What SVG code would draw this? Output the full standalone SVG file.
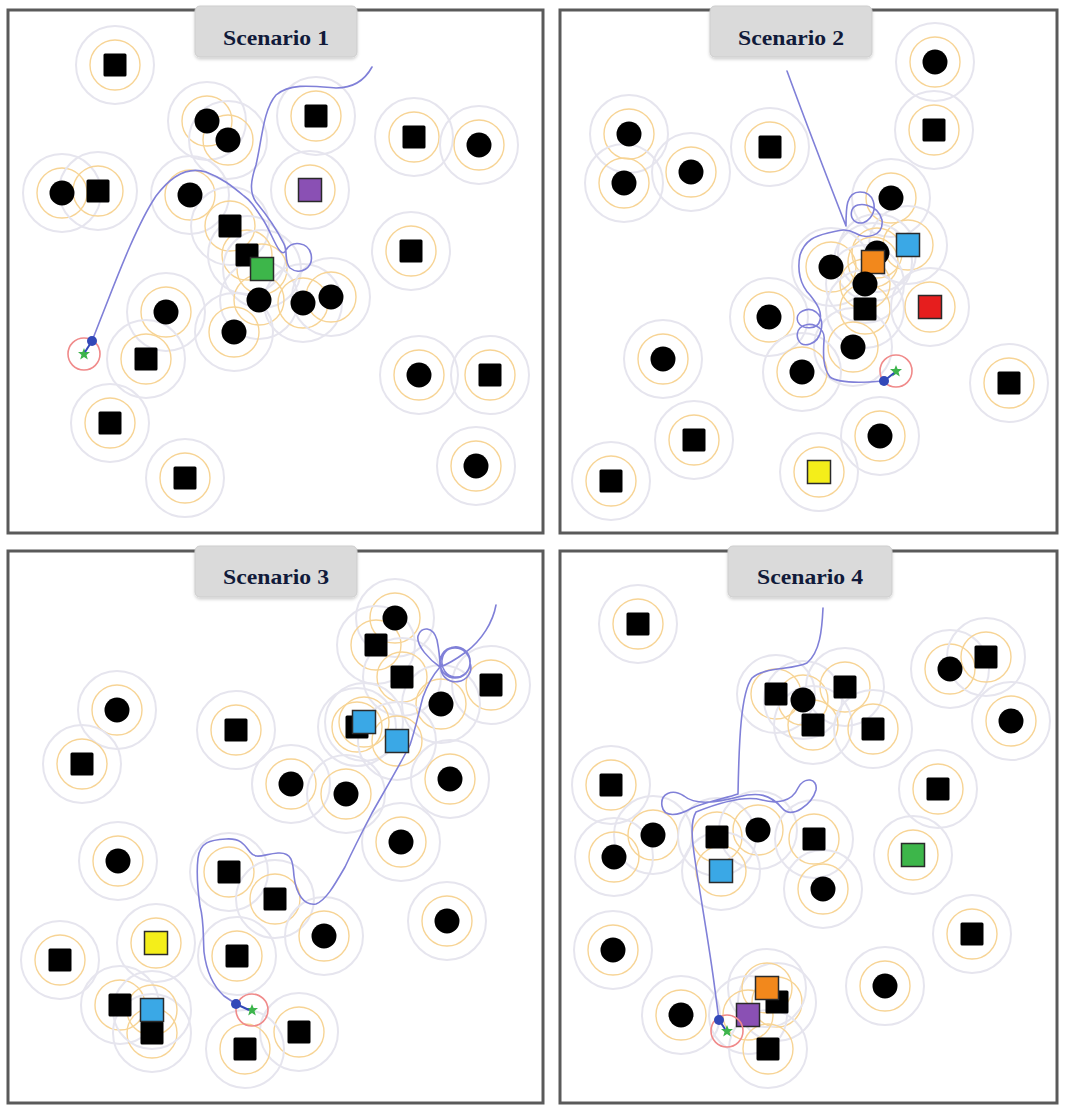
<svg xmlns="http://www.w3.org/2000/svg" xmlns:xlink="http://www.w3.org/1999/xlink" width="1065" height="1115" viewBox="0 0 1065 1115">
<style>
.panel{fill:#fff;stroke:#5a5a5a;stroke-width:3}
.tab{fill:#dadada;stroke:#cdcdcd;stroke-width:1}
.ttl{font-family:"Liberation Serif",serif;font-weight:bold;font-size:22px;fill:#111a3a;text-anchor:middle}
.ro{fill:none;stroke:#e6e5ee;stroke-width:2}
.ri{fill:none;stroke:#f7d495;stroke-width:1.4}
.bc{fill:#000}
.bs{fill:#000}
.cs{stroke:#2a2a2a;stroke-width:1.5}
.traj{fill:none;stroke:#8080d8;stroke-width:1.6;stroke-linecap:round;stroke-linejoin:round}
.goal{fill:none;stroke:#f08a8a;stroke-width:1.6}
.star{fill:#3cb44b}
.bot{fill:#3248b8}
</style>
<defs>
<g id="rg"><circle class="ro" r="39"/><circle class="ri" r="25"/></g>
<circle id="circ" class="bc" r="12.5"/>
<rect id="sq" class="bs" x="-11.5" y="-11.5" width="23" height="23" rx="1.5"/>
<rect id="csq" class="cs" x="-11.5" y="-11.5" width="23" height="23"/>
<g id="start"><circle class="goal" r="16"/><polygon class="star" points="0,-6 1.6,-2 6,-2 2.5,1 3.8,5.5 0,3 -3.8,5.5 -2.5,1 -6,-2 -1.6,-2"/></g>
<filter id="sh" x="-10%" y="-20%" width="120%" height="150%"><feDropShadow dx="0" dy="2" stdDeviation="1.5" flood-color="#000" flood-opacity="0.18"/></filter>
</defs>

<g id="panels">
<rect id="panel1" class="panel" x="8" y="10" width="535" height="523"/>
<rect id="panel2" class="panel" x="560" y="10" width="497" height="523"/>
<rect id="panel3" class="panel" x="8" y="551" width="535" height="552"/>
<rect id="panel4" class="panel" x="560" y="551" width="497" height="552"/>
</g>

<!-- Sensing rings -->
<g id="rings">
<use href="#rg" x="115" y="65"/><use href="#rg" x="207" y="121"/><use href="#rg" x="228" y="140"/><use href="#rg" x="316" y="116"/><use href="#rg" x="414" y="137"/><use href="#rg" x="479" y="145"/><use href="#rg" x="62" y="193"/><use href="#rg" x="98" y="191"/><use href="#rg" x="190" y="195"/><use href="#rg" x="310" y="190"/><use href="#rg" x="230" y="226"/><use href="#rg" x="247" y="255"/><use href="#rg" x="262" y="269"/><use href="#rg" x="411" y="251"/><use href="#rg" x="259" y="300"/><use href="#rg" x="303" y="303"/><use href="#rg" x="331" y="297"/><use href="#rg" x="166" y="312"/><use href="#rg" x="234" y="332"/><use href="#rg" x="146" y="359"/><use href="#rg" x="419" y="375"/><use href="#rg" x="490" y="375"/><use href="#rg" x="110" y="423"/><use href="#rg" x="185" y="478"/><use href="#rg" x="476" y="466"/>
<use href="#rg" x="935" y="62"/><use href="#rg" x="629" y="134"/><use href="#rg" x="770" y="147"/><use href="#rg" x="934" y="130"/><use href="#rg" x="624" y="183"/><use href="#rg" x="691" y="172"/><use href="#rg" x="891" y="198"/><use href="#rg" x="908" y="245"/><use href="#rg" x="877" y="253"/><use href="#rg" x="873" y="262"/><use href="#rg" x="831" y="267"/><use href="#rg" x="865" y="284"/><use href="#rg" x="865" y="309"/><use href="#rg" x="930" y="307"/><use href="#rg" x="769" y="317"/><use href="#rg" x="853" y="347"/><use href="#rg" x="663" y="359"/><use href="#rg" x="802" y="372"/><use href="#rg" x="1009" y="383"/><use href="#rg" x="694" y="440"/><use href="#rg" x="880" y="436"/><use href="#rg" x="819" y="472"/><use href="#rg" x="611" y="481"/>
<use href="#rg" x="395" y="618"/><use href="#rg" x="376" y="645"/><use href="#rg" x="402" y="677"/><use href="#rg" x="491" y="685"/><use href="#rg" x="441" y="704"/><use href="#rg" x="117" y="710"/><use href="#rg" x="236" y="730"/><use href="#rg" x="357" y="727"/><use href="#rg" x="364" y="722"/><use href="#rg" x="397" y="741"/><use href="#rg" x="82" y="764"/><use href="#rg" x="291" y="784"/><use href="#rg" x="346" y="794"/><use href="#rg" x="450" y="779"/><use href="#rg" x="401" y="842"/><use href="#rg" x="118" y="861"/><use href="#rg" x="229" y="872"/><use href="#rg" x="275" y="899"/><use href="#rg" x="447" y="921"/><use href="#rg" x="324" y="936"/><use href="#rg" x="156" y="943"/><use href="#rg" x="237" y="956"/><use href="#rg" x="60" y="960"/><use href="#rg" x="120" y="1005"/><use href="#rg" x="152" y="1033"/><use href="#rg" x="152" y="1010"/><use href="#rg" x="299" y="1032"/><use href="#rg" x="245" y="1049"/>
<use href="#rg" x="638" y="624"/><use href="#rg" x="950" y="669"/><use href="#rg" x="986" y="657"/><use href="#rg" x="1011" y="721"/><use href="#rg" x="776" y="694"/><use href="#rg" x="803" y="700"/><use href="#rg" x="845" y="687"/><use href="#rg" x="813" y="725"/><use href="#rg" x="873" y="729"/><use href="#rg" x="938" y="789"/><use href="#rg" x="611" y="785"/><use href="#rg" x="653" y="835"/><use href="#rg" x="614" y="857"/><use href="#rg" x="717" y="837"/><use href="#rg" x="758" y="830"/><use href="#rg" x="814" y="839"/><use href="#rg" x="721" y="871"/><use href="#rg" x="913" y="855"/><use href="#rg" x="823" y="889"/><use href="#rg" x="613" y="950"/><use href="#rg" x="972" y="934"/><use href="#rg" x="885" y="986"/><use href="#rg" x="681" y="1015"/><use href="#rg" x="777" y="1002"/><use href="#rg" x="767" y="988"/><use href="#rg" x="748" y="1015"/><use href="#rg" x="768" y="1049"/>
</g>

<!-- Trajectories -->
<g id="connectors">
<path id="traj1" class="traj" d="M372,67 C366,78 356,88 336,88 C312,86 290,83 276,95 C263,110 262,140 256,165 C251,180 249,192 256,202 C266,214 276,228 284,244 C288,252 284,262 290,268 C300,276 314,268 311,254 C308,242 292,240 286,250 C280,262 272,232 262,218 C254,206 250,200 244,196 C232,186 222,178 206,172 C187,166 171,176 156,196 C136,226 116,280 101,318 L92,341"/>
<path id="traj2" class="traj" d="M787,71 C805,120 830,185 846,226 C846,208 846,192 860,192 C874,192 878,208 870,218 C862,228 848,222 852,210 C856,200 878,204 882,220 C884,236 866,240 855,233 C846,228 840,230 828,233 C815,236 805,240 800,255 C797,270 800,285 810,295 C818,305 822,312 820,320 C818,330 802,330 798,322 C794,312 808,306 816,312 C826,320 822,340 810,344 C798,348 794,334 800,328 C808,320 826,326 824,340 C823,355 823,368 830,377 C838,383 860,383 883,381"/>
<path id="traj3" class="traj" d="M496,605 C493,622 482,640 466,652 C455,660 446,665 440,667 C430,660 416,646 418,636 C421,626 433,626 437,640 C439,650 440,660 440,667 M440,663 a15,15 0 1,0 30,0 a15,15 0 1,0 -30,0 M442,660 a14,15 0 1,0 28,4 a14,15 0 1,0 -28,-4 M441,666 a15,14 0 1,0 29,-3 a15,14 0 1,0 -29,3 M440,667 C432,676 427,686 423,697 C418,715 416,727 410,745 C398,768 385,790 372,813 C360,836 352,852 345,867 C334,886 326,900 316,904 C304,906 296,894 294,876 C293,862 292,852 278,853 C264,854 256,860 250,852 C244,844 240,838 226,839 C210,840 200,842 198,858 C196,875 198,892 200,906 C204,920 203,935 204,952 C206,968 212,985 224,996 L236,1004"/>
<path id="traj4" class="traj" d="M823,608 C822,630 820,652 807,663 C792,670 764,667 752,678 C741,692 739,740 738,794 C726,798 706,802 692,808 C678,816 664,818 662,806 C660,794 672,788 684,796 C696,806 718,802 738,797 C758,792 770,794 782,808 C792,820 812,804 816,790 C818,778 804,776 798,788 C792,802 776,804 762,800 C744,795 716,804 696,812 C690,822 692,840 695,860 C701,900 710,950 715,990 L719,1020"/>
</g>

<!-- Scenario 1 objects -->
<g id="scenario1">
<g id="s1-o1"><use href="#sq" x="115" y="65"/></g>
<g id="s1-o2"><use href="#circ" x="207" y="121"/></g>
<g id="s1-o3"><use href="#circ" x="228" y="140"/></g>
<g id="s1-o4"><use href="#sq" x="316" y="116"/></g>
<g id="s1-o5"><use href="#sq" x="414" y="137"/></g>
<g id="s1-o6"><use href="#circ" x="479" y="145"/></g>
<g id="s1-o7"><use href="#circ" x="62" y="193"/></g>
<g id="s1-o8"><use href="#sq" x="98" y="191"/></g>
<g id="s1-o9"><use href="#circ" x="190" y="195"/></g>
<g id="s1-o10"><use href="#csq" x="310" y="190" fill="#8a50b4"/></g>
<g id="s1-o11"><use href="#sq" x="230" y="226"/></g>
<g id="s1-o12"><use href="#sq" x="247" y="255"/></g>
<g id="s1-o13"><use href="#csq" x="262" y="269" fill="#3db64a"/></g>
<g id="s1-o14"><use href="#sq" x="411" y="251"/></g>
<g id="s1-o15"><use href="#circ" x="259" y="300"/></g>
<g id="s1-o16"><use href="#circ" x="303" y="303"/></g>
<g id="s1-o17"><use href="#circ" x="331" y="297"/></g>
<g id="s1-o18"><use href="#circ" x="166" y="312"/></g>
<g id="s1-o19"><use href="#circ" x="234" y="332"/></g>
<g id="s1-o20"><use href="#sq" x="146" y="359"/></g>
<g id="s1-o21"><use href="#circ" x="419" y="375"/></g>
<g id="s1-o22"><use href="#sq" x="490" y="375"/></g>
<g id="s1-o23"><use href="#sq" x="110" y="423"/></g>
<g id="s1-o24"><use href="#sq" x="185" y="478"/></g>
<g id="s1-o25"><use href="#circ" x="476" y="466"/></g>
</g>

<!-- Scenario 2 objects -->
<g id="scenario2">
<g id="s2-o1"><use href="#circ" x="935" y="62"/></g>
<g id="s2-o2"><use href="#circ" x="629" y="134"/></g>
<g id="s2-o3"><use href="#sq" x="770" y="147"/></g>
<g id="s2-o4"><use href="#sq" x="934" y="130"/></g>
<g id="s2-o5"><use href="#circ" x="624" y="183"/></g>
<g id="s2-o6"><use href="#circ" x="691" y="172"/></g>
<g id="s2-o7"><use href="#circ" x="891" y="198"/></g>
<g id="s2-o8"><use href="#csq" x="908" y="245" fill="#3aa8e6"/></g>
<g id="s2-o9"><use href="#circ" x="877" y="253"/></g>
<g id="s2-o10"><use href="#csq" x="873" y="262" fill="#f2881c"/></g>
<g id="s2-o11"><use href="#circ" x="831" y="267"/></g>
<g id="s2-o12"><use href="#circ" x="865" y="284"/></g>
<g id="s2-o13"><use href="#sq" x="865" y="309"/></g>
<g id="s2-o14"><use href="#csq" x="930" y="307" fill="#e61e1e"/></g>
<g id="s2-o15"><use href="#circ" x="769" y="317"/></g>
<g id="s2-o16"><use href="#circ" x="853" y="347"/></g>
<g id="s2-o17"><use href="#circ" x="663" y="359"/></g>
<g id="s2-o18"><use href="#circ" x="802" y="372"/></g>
<g id="s2-o19"><use href="#sq" x="1009" y="383"/></g>
<g id="s2-o20"><use href="#sq" x="694" y="440"/></g>
<g id="s2-o21"><use href="#circ" x="880" y="436"/></g>
<g id="s2-o22"><use href="#csq" x="819" y="472" fill="#f4ee1a"/></g>
<g id="s2-o23"><use href="#sq" x="611" y="481"/></g>
</g>

<!-- Scenario 3 objects -->
<g id="scenario3">
<g id="s3-o1"><use href="#circ" x="395" y="618"/></g>
<g id="s3-o2"><use href="#sq" x="376" y="645"/></g>
<g id="s3-o3"><use href="#sq" x="402" y="677"/></g>
<g id="s3-o4"><use href="#sq" x="491" y="685"/></g>
<g id="s3-o5"><use href="#circ" x="441" y="704"/></g>
<g id="s3-o6"><use href="#circ" x="117" y="710"/></g>
<g id="s3-o7"><use href="#sq" x="236" y="730"/></g>
<g id="s3-o8"><use href="#sq" x="357" y="727"/></g>
<g id="s3-o9"><use href="#csq" x="364" y="722" fill="#3aa8e6"/></g>
<g id="s3-o10"><use href="#csq" x="397" y="741" fill="#3aa8e6"/></g>
<g id="s3-o11"><use href="#sq" x="82" y="764"/></g>
<g id="s3-o12"><use href="#circ" x="291" y="784"/></g>
<g id="s3-o13"><use href="#circ" x="346" y="794"/></g>
<g id="s3-o14"><use href="#circ" x="450" y="779"/></g>
<g id="s3-o15"><use href="#circ" x="401" y="842"/></g>
<g id="s3-o16"><use href="#circ" x="118" y="861"/></g>
<g id="s3-o17"><use href="#sq" x="229" y="872"/></g>
<g id="s3-o18"><use href="#sq" x="275" y="899"/></g>
<g id="s3-o19"><use href="#circ" x="447" y="921"/></g>
<g id="s3-o20"><use href="#circ" x="324" y="936"/></g>
<g id="s3-o21"><use href="#csq" x="156" y="943" fill="#f4ee1a"/></g>
<g id="s3-o22"><use href="#sq" x="237" y="956"/></g>
<g id="s3-o23"><use href="#sq" x="60" y="960"/></g>
<g id="s3-o24"><use href="#sq" x="120" y="1005"/></g>
<g id="s3-o25"><use href="#sq" x="152" y="1033"/></g>
<g id="s3-o26"><use href="#csq" x="152" y="1010" fill="#3aa8e6"/></g>
<g id="s3-o27"><use href="#sq" x="299" y="1032"/></g>
<g id="s3-o28"><use href="#sq" x="245" y="1049"/></g>
</g>

<!-- Scenario 4 objects -->
<g id="scenario4">
<g id="s4-o1"><use href="#sq" x="638" y="624"/></g>
<g id="s4-o2"><use href="#circ" x="950" y="669"/></g>
<g id="s4-o3"><use href="#sq" x="986" y="657"/></g>
<g id="s4-o4"><use href="#circ" x="1011" y="721"/></g>
<g id="s4-o5"><use href="#sq" x="776" y="694"/></g>
<g id="s4-o6"><use href="#circ" x="803" y="700"/></g>
<g id="s4-o7"><use href="#sq" x="845" y="687"/></g>
<g id="s4-o8"><use href="#sq" x="813" y="725"/></g>
<g id="s4-o9"><use href="#sq" x="873" y="729"/></g>
<g id="s4-o10"><use href="#sq" x="938" y="789"/></g>
<g id="s4-o11"><use href="#sq" x="611" y="785"/></g>
<g id="s4-o12"><use href="#circ" x="653" y="835"/></g>
<g id="s4-o13"><use href="#circ" x="614" y="857"/></g>
<g id="s4-o14"><use href="#sq" x="717" y="837"/></g>
<g id="s4-o15"><use href="#circ" x="758" y="830"/></g>
<g id="s4-o16"><use href="#sq" x="814" y="839"/></g>
<g id="s4-o17"><use href="#csq" x="721" y="871" fill="#3aa8e6"/></g>
<g id="s4-o18"><use href="#csq" x="913" y="855" fill="#3db64a"/></g>
<g id="s4-o19"><use href="#circ" x="823" y="889"/></g>
<g id="s4-o20"><use href="#circ" x="613" y="950"/></g>
<g id="s4-o21"><use href="#sq" x="972" y="934"/></g>
<g id="s4-o22"><use href="#circ" x="885" y="986"/></g>
<g id="s4-o23"><use href="#circ" x="681" y="1015"/></g>
<g id="s4-o24"><use href="#sq" x="777" y="1002"/></g>
<g id="s4-o25"><use href="#csq" x="767" y="988" fill="#f2881c"/></g>
<g id="s4-o26"><use href="#csq" x="748" y="1015" fill="#8a50b4"/></g>
<g id="s4-o27"><use href="#sq" x="768" y="1049"/></g>
</g>

<!-- Start / robot markers -->
<g id="markers">
<g id="m1"><use href="#start" x="84" y="354"/><line x1="92" y1="341" x2="85" y2="352" stroke="#3248b8" stroke-width="2"/><circle class="bot" cx="92" cy="341" r="5"/></g>
<g id="m2"><use href="#start" x="896" y="371"/><line x1="884" y1="381" x2="894" y2="373" stroke="#3248b8" stroke-width="2"/><circle class="bot" cx="884" cy="381" r="5"/></g>
<g id="m3"><use href="#start" x="252" y="1010"/><line x1="236" y1="1004" x2="249" y2="1010" stroke="#3248b8" stroke-width="2"/><circle class="bot" cx="236" cy="1004" r="5"/></g>
<g id="m4"><use href="#start" x="727" y="1031"/><line x1="719" y1="1020" x2="725" y2="1029" stroke="#3248b8" stroke-width="2"/><circle class="bot" cx="719" cy="1020" r="5"/></g>
</g>

<!-- Title tabs -->
<g id="tab1"><rect class="tab" filter="url(#sh)" x="195" y="6" width="162" height="51" rx="5"/><text class="ttl" x="276" y="45" textLength="106" lengthAdjust="spacingAndGlyphs">Scenario 1</text></g>
<g id="tab2"><rect class="tab" filter="url(#sh)" x="710" y="6" width="162" height="51" rx="5"/><text class="ttl" x="791" y="45" textLength="106" lengthAdjust="spacingAndGlyphs">Scenario 2</text></g>
<g id="tab3"><rect class="tab" filter="url(#sh)" x="195" y="546" width="162" height="51" rx="5"/><text class="ttl" x="276" y="584" textLength="106" lengthAdjust="spacingAndGlyphs">Scenario 3</text></g>
<g id="tab4"><rect class="tab" filter="url(#sh)" x="728" y="546" width="164" height="51" rx="5"/><text class="ttl" x="810" y="584" textLength="106" lengthAdjust="spacingAndGlyphs">Scenario 4</text></g>
</svg>
